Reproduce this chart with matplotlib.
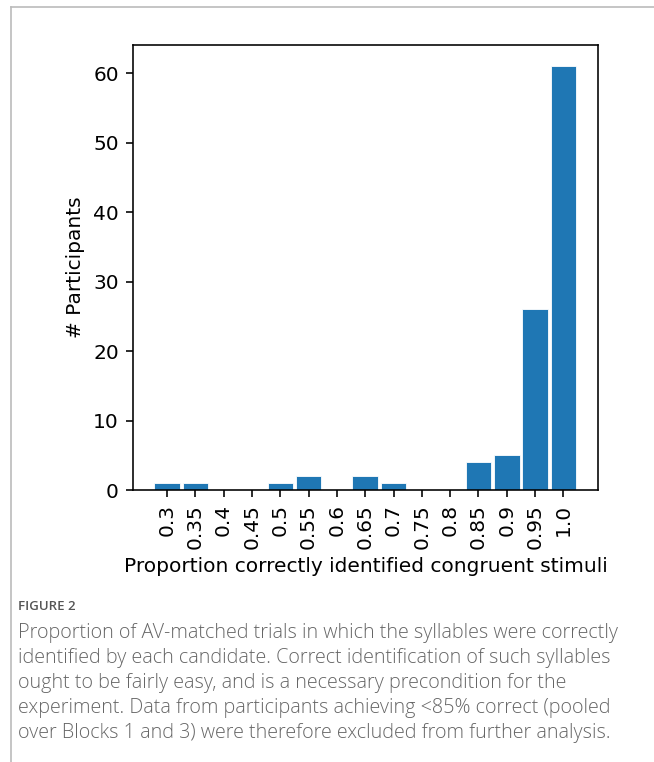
import numpy as np
import matplotlib
matplotlib.use("Agg")
import matplotlib.pyplot as plt
from matplotlib.lines import Line2D

# data
categories = ['0.3', '0.35', '0.4', '0.45', '0.5', '0.55', '0.6', '0.65',
              '0.7', '0.75', '0.8', '0.85', '0.9', '0.95', '1.0']
counts = [1, 1, 0, 0, 1, 2, 0, 2, 1, 0, 0, 4, 5, 26, 61]

caption_title = "FIGURE 2"
caption_lines = [
    "Proportion of AV-matched trials in which the syllables were correctly",
    "identified by each candidate. Correct identification of such syllables",
    "ought to be fairly easy, and is a necessary precondition for the",
    "experiment. Data from participants achieving <85% correct (pooled",
    "over Blocks 1 and 3) were therefore excluded from further analysis.",
]

W, H = 654, 762
s = 1.45  # the original figure looks like defaults scaled up
fig = plt.figure(figsize=(W / 100, H / 100), dpi=100)

# axes box in pixel coords: left 133, right 598, top 45, bottom 490
ax = fig.add_axes([133 / W, 1 - 490 / H, (598 - 133) / W, (490 - 45) / H])
x = np.arange(len(categories))
ax.bar(x, counts, width=0.9, color='#1f77b4', edgecolor='white', linewidth=0.6)
ax.set_xticks(x)
ax.set_xticklabels(categories, rotation=90)
ax.set_xlim(-1.2, len(categories) - 1 + 1.22)
ax.set_ylim(0, 64.05)
ax.set_yticks([0, 10, 20, 30, 40, 50, 60])
ax.tick_params(labelsize=14.5, length=3.5 * s, width=0.8 * s, pad=3.5 * s)
for sp in ax.spines.values():
    sp.set_linewidth(0.8 * s)
ax.set_xlabel("Proportion correctly identified congruent stimuli", fontsize=14.5,
              labelpad=4 * s)
ax.set_ylabel("# Participants", fontsize=14.5, labelpad=4 * s)

# frame lines of the page
fig.add_artist(Line2D([11 / W, 1], [1 - 7 / H, 1 - 7 / H], color='#bbbbbb', lw=1.2))
fig.add_artist(Line2D([11 / W, 11 / W], [0, 1 - 7 / H], color='#bbbbbb', lw=1.2))

fig.text(18 / W, 1 - 607 / H, caption_title, fontsize=9.5, color='#555555',
         family='Open Sans', fontweight='semibold', va='center', ha='left')
for i, line in enumerate(caption_lines):
    fig.text(18 / W, 1 - (633 + 25 * i) / H, line, fontsize=14.2, color='#666666',
             family='Open Sans', fontweight='light', va='center', ha='left')

fig.savefig("out.png", dpi=100)
